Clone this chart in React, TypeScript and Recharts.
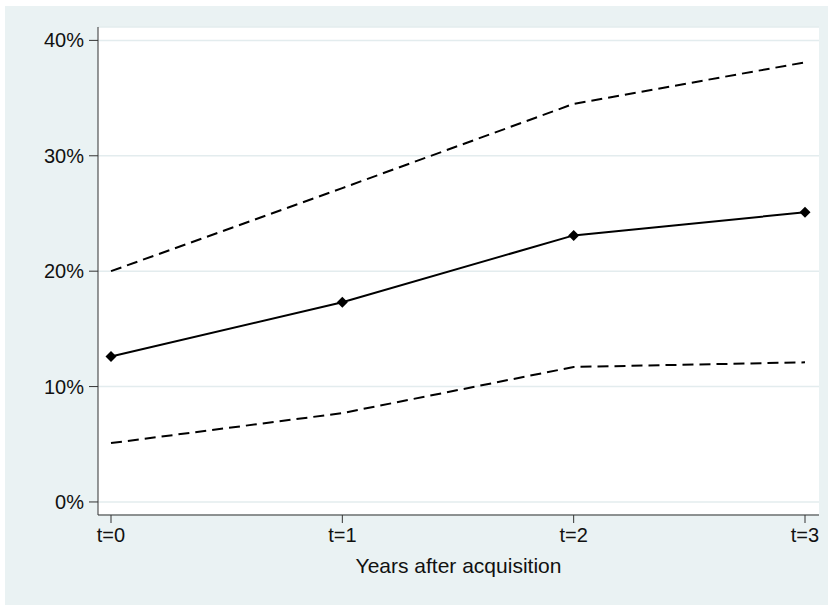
import { CartesianGrid, Line, LineChart, XAxis, YAxis } from "recharts";

const years = ["t=0", "t=1", "t=2", "t=3"];
const estimate = [12.6, 17.3, 23.1, 25.1];
const upperCI = [20.0, 27.2, 34.5, 38.1];
const lowerCI = [5.1, 7.7, 11.7, 12.1];
const yTicks = [0, 10, 20, 30, 40];

const data = years.map((year, i) => ({
  year,
  estimate: estimate[i],
  upper: upperCI[i],
  lower: lowerCI[i],
}));

const font = "'Liberation Sans', Arial, sans-serif";
const bg = "#eaf2f3";

interface DotProps {
  cx?: number;
  cy?: number;
  index?: number;
}

const Diamond = ({ cx, cy, index }: DotProps) => {
  if (cx == null || cy == null) return null;
  const r = 5.5;
  return (
    <polygon
      key={index}
      points={`${cx},${cy - r} ${cx + r},${cy} ${cx},${cy + r} ${cx - r},${cy}`}
      fill="#000"
    />
  );
};

export default function App() {
  return (
    <div
      style={{
        position: "absolute",
        left: 5,
        top: 6,
        width: 823,
        height: 599,
        background: bg,
        fontFamily: font,
      }}
    >
      <LineChart width={823} height={599} data={data} margin={{ top: 21, right: 9, left: 33, bottom: 0 }}>
        <CartesianGrid vertical={false} fill="#fff" stroke="#e3ecee" strokeWidth={1.5} />
        <XAxis
          dataKey="year"
          padding={{ left: 13, right: 14 }}
          height={90}
          tickSize={8}
          tickMargin={5}
          stroke="#333"
          tick={{ fontSize: 20, fill: "#111", fontFamily: font }}
          label={{
            value: "Years after acquisition",
            position: "insideTop",
            offset: 43,
            fontSize: 21,
            fill: "#111",
            fontFamily: font,
          }}
        />
        <YAxis
          width={60}
          type="number"
          domain={[-1.13, 41.16]}
          allowDataOverflow
          ticks={yTicks}
          interval={0}
          tickFormatter={(v: number) => `${v}%`}
          tickSize={9}
          tickMargin={5}
          stroke="#333"
          tick={{ fontSize: 20, fill: "#111", fontFamily: font }}
        />
        <Line
          type="linear"
          dataKey="upper"
          stroke="#000"
          strokeWidth={2}
          strokeDasharray="11 6"
          dot={false}
          activeDot={false}
          isAnimationActive={false}
        />
        <Line
          type="linear"
          dataKey="lower"
          stroke="#000"
          strokeWidth={2}
          strokeDasharray="11 6"
          dot={false}
          activeDot={false}
          isAnimationActive={false}
        />
        <Line
          type="linear"
          dataKey="estimate"
          stroke="#000"
          strokeWidth={2}
          dot={<Diamond />}
          activeDot={false}
          isAnimationActive={false}
        />
      </LineChart>
    </div>
  );
}
